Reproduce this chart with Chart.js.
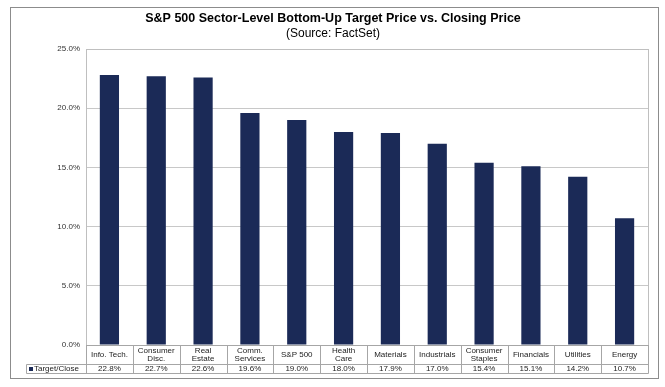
<!DOCTYPE html>
<html>
<head>
<meta charset="utf-8">
<script src="https://cdn.jsdelivr.net/npm/chart.js@4"></script>
<style>
  html, body { margin: 0; padding: 0; background: #fff; }
  #wrap { width: 665px; height: 387px; }
</style>
</head>
<body>
<div id="wrap"><canvas id="sectorChart" width="665" height="387"></canvas></div>
<script>
// sectors and target/close upside (%)
const sectors = [
    ['Info. Tech.'], ['Consumer', 'Disc.'], ['Real', 'Estate'], ['Comm.', 'Services'],
    ['S&P 500'], ['Health', 'Care'], ['Materials'], ['Industrials'],
    ['Consumer', 'Staples'], ['Financials'], ['Utilities'], ['Energy']
];
const targetClose = [22.8, 22.7, 22.6, 19.6, 19.0, 18.0, 17.9, 17.0, 15.4, 15.1, 14.2, 10.7];
const seriesName = 'Target/Close';
const yTicks = [0, 5, 10, 15, 20, 25];

const barColor = '#1b2a57';
const lineColor = '#a6a6a6';
const font = 'Arial, "Liberation Sans", sans-serif';

// frame, titles and the data table under the plot
const tablePlugin = {
    id: 'tablePlugin',
    afterDraw(chart) {
        const ctx = chart.ctx;
        const x = chart.scales.x;
        const area = chart.chartArea;
        const half = (x.getPixelForValue(1) - x.getPixelForValue(0)) / 2;
        const row1 = area.bottom, row2 = area.bottom + 19, row3 = area.bottom + 28;

        ctx.save();
        // outer frame
        ctx.strokeStyle = '#8c8c8c';
        ctx.lineWidth = 1;
        ctx.strokeRect(10.5, 7.5, 648, 371);

        // titles
        ctx.fillStyle = '#000';
        ctx.textAlign = 'center';
        ctx.textBaseline = 'middle';
        ctx.font = 'bold 12.5px ' + font;
        ctx.fillText('S&P 500 Sector-Level Bottom-Up Target Price vs. Closing Price', 333, 19);
        ctx.font = '12px ' + font;
        ctx.fillText('(Source: FactSet)', 333, 34);

        // plot frame
        ctx.strokeStyle = '#bfbfbf';
        ctx.strokeRect(Math.round(area.left) + 0.5, Math.round(area.top) + 0.5,
            Math.round(area.right - area.left), Math.round(area.bottom - area.top));

        // table grid
        ctx.strokeStyle = lineColor;
        ctx.beginPath();
        const left = Math.round(x.getPixelForValue(0) - half) + 0.5;
        const right = Math.round(x.getPixelForValue(sectors.length - 1) + half) + 0.5;
        ctx.moveTo(left, row1 + 0.5); ctx.lineTo(right, row1 + 0.5);
        ctx.moveTo(26.5, row2 + 0.5); ctx.lineTo(right, row2 + 0.5);
        ctx.moveTo(26.5, row3 + 0.5); ctx.lineTo(right, row3 + 0.5);
        ctx.moveTo(26.5, row2 + 0.5); ctx.lineTo(26.5, row3 + 0.5);
        for (let i = 0; i <= sectors.length; i++) {
            const px = Math.round(x.getPixelForValue(i - 0.5)) + 0.5;
            ctx.moveTo(px, row1); ctx.lineTo(px, row3 + 0.5);
        }
        ctx.stroke();

        // category labels and values
        ctx.fillStyle = '#222';
        ctx.font = '8px ' + font;
        sectors.forEach((lines, i) => {
            const cx = x.getPixelForValue(i);
            if (lines.length === 1) {
                ctx.fillText(lines[0], cx, row1 + 10);
            } else {
                ctx.fillText(lines[0], cx, row1 + 5.5);
                ctx.fillText(lines[1], cx, row1 + 14);
            }
            ctx.fillText(targetClose[i].toFixed(1) + '%', cx, row2 + 5);
        });

        // legend cell
        ctx.fillStyle = barColor;
        ctx.fillRect(29, row2 + 3, 4, 4);
        ctx.fillStyle = '#222';
        ctx.textAlign = 'left';
        ctx.fillText(seriesName, 34, row2 + 5);
        ctx.restore();
    }
};

const ctx = document.getElementById('sectorChart').getContext('2d');
const sectorChart = new Chart(ctx, {
    type: 'bar',
    data: {
        labels: sectors,
        datasets: [{
            label: seriesName,
            data: targetClose,
            backgroundColor: barColor,
            borderWidth: 0,
            categoryPercentage: 1,
            barPercentage: 0.41
        }]
    },
    options: {
        responsive: false,
        animation: false,
        layout: {
            padding: { top: 49, right: 17, bottom: 42, left: 0 }
        },
        plugins: {
            legend: { display: false },
            title: { display: false },
            tooltip: { enabled: false }
        },
        scales: {
            x: {
                ticks: { display: false },
                grid: { display: false, drawTicks: false },
                border: { display: false },
                afterFit: scale => { scale.height = 0; }
            },
            y: {
                min: 0,
                max: 25,
                afterBuildTicks: scale => {
                    scale.ticks = yTicks.map(v => ({ value: v }));
                },
                ticks: {
                    padding: 6,
                    color: '#333',
                    font: { family: font, size: 8 },
                    callback: v => v.toFixed(1) + '%'
                },
                grid: { color: '#c8c8c8', drawTicks: false },
                border: { display: false },
                afterFit: scale => { scale.width = 86; }
            }
        }
    },
    plugins: [tablePlugin]
});
</script>
</body>
</html>
